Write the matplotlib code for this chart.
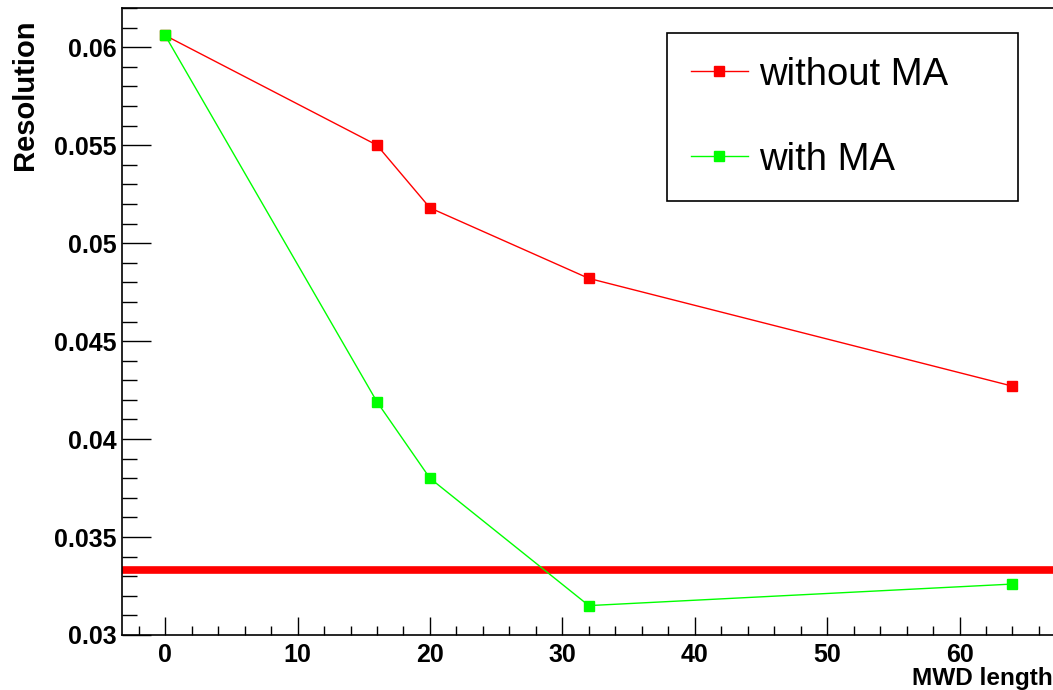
import matplotlib
matplotlib.use("Agg")
import matplotlib.pyplot as plt
from matplotlib.ticker import MultipleLocator, FuncFormatter

plt.rcParams["font.family"] = ["Liberation Sans", "DejaVu Sans"]

# data
mwd_length = [0, 16, 20, 32, 64]
res_without_ma = [0.0606, 0.0550, 0.0518, 0.0482, 0.0427]
res_with_ma = [0.0606, 0.0419, 0.0380, 0.0315, 0.0326]
reference_level = 0.0333

W, H = 1053, 690
fig = plt.figure(figsize=(W / 100, H / 100), dpi=100)
ax = fig.add_axes([122 / W, 55 / H, (W - 122) / W, (635 - 8) / H])

ax.plot(mwd_length, res_without_ma, color="#ff0000", lw=1.0, marker="s",
        ms=7, mec="#ff0000", mfc="#ff0000", label="without MA", zorder=3)
ax.plot(mwd_length, res_with_ma, color="#00ff00", lw=1.0, marker="s",
        ms=7, mec="#00ff00", mfc="#00ff00", label="with MA", zorder=3)
ax.axhline(reference_level, color="#ff0000", lw=5.5, zorder=2)

ax.set_xlim(-3.26, 67.06)
ax.set_ylim(0.03, 0.062)

ax.xaxis.set_major_locator(MultipleLocator(10))
ax.xaxis.set_minor_locator(MultipleLocator(2))
ax.yaxis.set_major_locator(MultipleLocator(0.005))
ax.yaxis.set_minor_locator(MultipleLocator(0.001))
ax.yaxis.set_major_formatter(FuncFormatter(lambda v, p: "%g" % round(v, 4)))

ax.tick_params(axis="both", which="both", direction="in", top=False, right=False,
               width=1.0, color="black")
ax.tick_params(axis="y", which="major", length=21, pad=4)
ax.tick_params(axis="y", which="minor", length=11)
ax.tick_params(axis="x", which="major", length=13, pad=6)
ax.tick_params(axis="x", which="minor", length=6.5)
for lab in ax.get_xticklabels() + ax.get_yticklabels():
    lab.set_fontsize(18)
    lab.set_fontweight("bold")

ax.spines["right"].set_visible(False)
for s in ("left", "bottom", "top"):
    ax.spines[s].set_linewidth(1.2)

fig.text(25 / W, 1 - 20 / H, "Resolution", rotation=90, ha="center", va="top",
         fontsize=21, fontweight="bold")
fig.text(912 / W, 1 - 685 / H, "MWD length", ha="left", va="baseline",
         fontsize=17.6, fontweight="bold")

leg = ax.legend(loc="upper left",
                bbox_to_anchor=(667 / W, 1 - 33 / H, (1018 - 667) / W, 1e-6),
                bbox_transform=fig.transFigure, mode="expand",
                fontsize=27.5, numpoints=1, handlelength=1.5, handletextpad=0.28,
                labelspacing=1.28, borderpad=0.62, borderaxespad=0,
                fancybox=False, framealpha=1, edgecolor="black")
leg.get_frame().set_linewidth(1.2)

fig.savefig("out.png", dpi=100)
